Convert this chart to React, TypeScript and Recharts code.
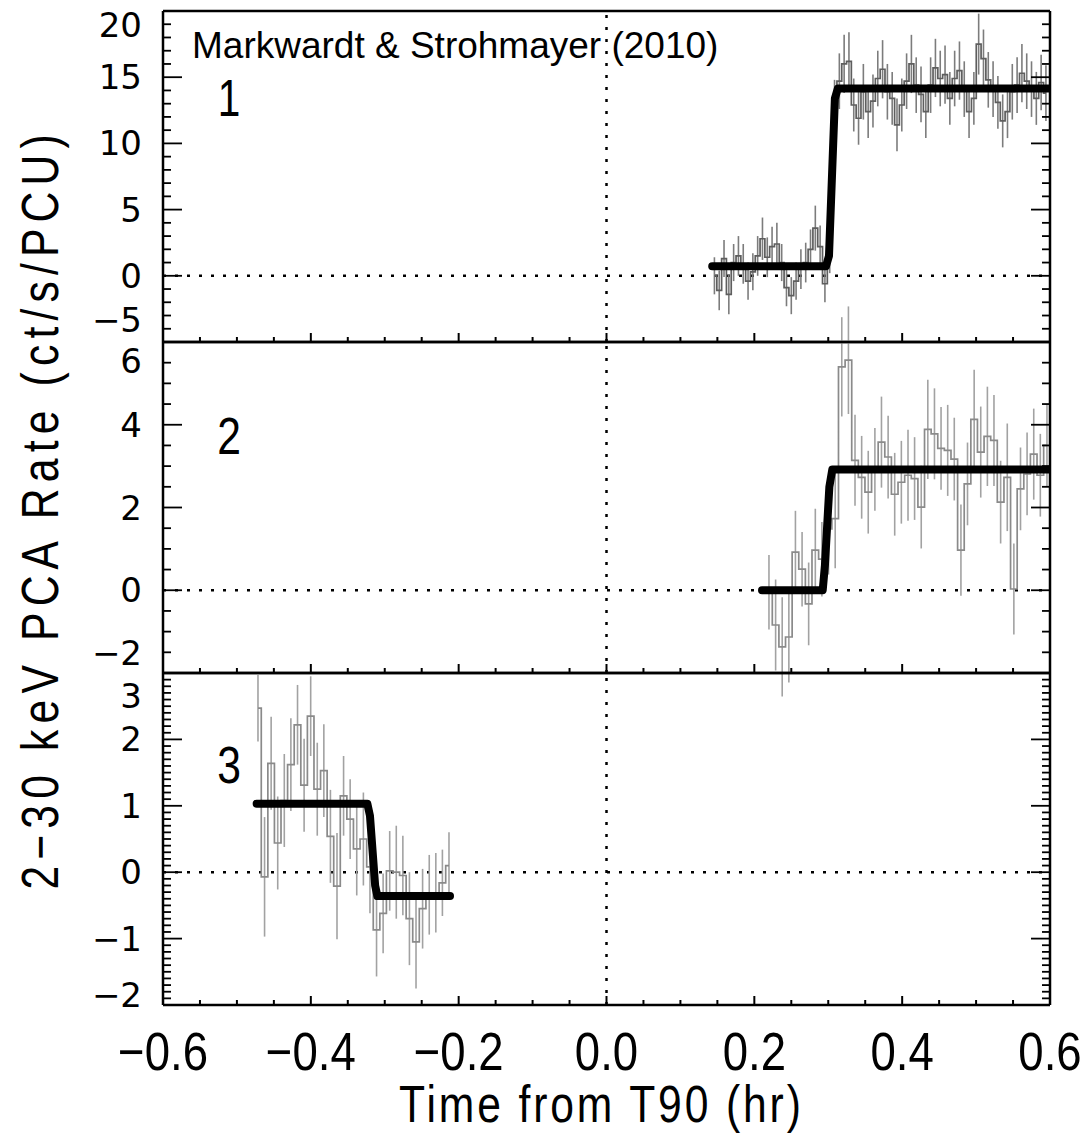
import React from 'react';
import { ComposedChart, Line, XAxis, YAxis, ErrorBar, ReferenceLine } from 'recharts';

const W = 1083;
const H = 1139;
const LEFT = 163;
const RIGHT = 1050;

// panel 1: bin centres (hr), rate, error
const t1 = [
  0.146, 0.1525, 0.159, 0.1655, 0.172, 0.1785, 0.185, 0.1915, 0.198, 0.2045,
  0.211, 0.2175, 0.224, 0.2305, 0.237, 0.2435, 0.25, 0.2565, 0.263, 0.2695,
  0.276, 0.2825, 0.289, 0.2955, 0.302, 0.3085, 0.315, 0.3215, 0.328, 0.3345,
  0.341, 0.3475, 0.354, 0.3605, 0.367, 0.3735, 0.38, 0.3865, 0.393, 0.3995,
  0.406, 0.4125, 0.419, 0.4255, 0.432, 0.4385, 0.445, 0.4515, 0.458, 0.4645,
  0.471, 0.4775, 0.484, 0.4905, 0.497, 0.5035, 0.51, 0.5165, 0.523, 0.5295,
  0.536, 0.5425, 0.549, 0.5555, 0.562, 0.5685, 0.575, 0.5815, 0.588, 0.5945,
];
const rate1 = [
  0.0, -1.1, 1.3, -1.4, 1.0, 1.5, 0.9, -0.4, 0.3, 1.5,
  2.8, 1.4, 2.2, 2.4, 1.0, -0.9, -1.5, -0.4, 0.5, 1.0,
  2.0, 3.6, 2.2, -0.6, 1.8, 12.8, 14.7, 16.0, 16.2, 12.9,
  11.9, 13.9, 12.4, 13.2, 14.9, 15.6, 13.9, 13.4, 11.4, 12.9,
  14.7, 16.0, 14.4, 13.7, 12.4, 14.4, 15.7, 14.9, 15.2, 13.4,
  14.9, 15.5, 14.1, 12.4, 13.4, 17.5, 16.4, 14.8, 14.1, 13.1,
  11.7, 12.4, 13.9, 14.4, 15.3, 14.7, 14.1, 13.4, 14.6, 13.8,
];
const err1 = [
  1.4, 1.5, 1.4, 1.5, 1.4, 1.5, 1.5, 1.4, 1.4, 1.5,
  1.6, 1.5, 1.5, 1.6, 1.4, 1.4, 1.4, 1.4, 1.5, 1.5,
  1.5, 1.7, 1.6, 1.4, 1.6, 2.0, 2.1, 2.2, 2.2, 2.0,
  2.0, 2.1, 2.0, 2.0, 2.1, 2.2, 2.1, 2.0, 2.0, 2.0,
  2.1, 2.2, 2.1, 2.1, 2.0, 2.1, 2.2, 2.1, 2.2, 2.0,
  2.1, 2.2, 2.1, 2.0, 2.0, 2.3, 2.2, 2.1, 2.1, 2.0,
  2.0, 2.0, 2.1, 2.1, 2.2, 2.1, 2.1, 2.0, 2.1, 2.1,
];
const fit1T = [0.143, 0.297, 0.301, 0.309, 0.313, 0.6];
const fit1Y = [0.72, 0.72, 1.5, 13.4, 14.15, 14.15];

// panel 2
const t2 = [
  0.2198, 0.2288, 0.2377, 0.2467, 0.2556, 0.2646, 0.2735, 0.2825, 0.2914, 0.3004,
  0.3094, 0.3183, 0.3273, 0.3362, 0.3452, 0.3541, 0.3631, 0.372, 0.381, 0.3899,
  0.3989, 0.4079, 0.4168, 0.4258, 0.4347, 0.4437, 0.4526, 0.4616, 0.4705, 0.4795,
  0.4884, 0.4974, 0.5063, 0.5153, 0.5242, 0.5332, 0.5422, 0.5511, 0.5601, 0.569,
  0.578, 0.5869, 0.5959,
];
const rate2 = [
  -0.05, -0.84, -1.37, -1.13, 0.92, 0.51, -0.33, 0.97, 0.75, 1.48,
  1.73, 5.4, 5.56, 3.14, 2.73, 2.37, 2.92, 3.58, 3.22, 2.32,
  2.61, 2.78, 2.7, 2.01, 3.89, 3.78, 3.43, 3.38, 3.17, 0.97,
  2.57, 4.13, 3.34, 3.72, 3.62, 2.13, 2.73, 0.03, 2.45, 2.81,
  3.29, 2.78, 3.5,
];
const err2 = [
  0.9, 1.1, 1.2, 1.1, 1.0, 0.9, 1.0, 1.0, 0.9, 1.1,
  1.2, 1.2, 1.3, 1.1, 1.0, 1.0, 1.0, 1.1, 1.0, 1.0,
  1.0, 1.1, 1.0, 1.0, 1.2, 1.1, 1.0, 1.1, 1.0, 1.1,
  1.0, 1.2, 1.1, 1.2, 1.1, 1.0, 1.3, 1.1, 1.0, 1.0,
  1.1, 1.0, 1.0,
];
const fit2T = [0.2104, 0.2925, 0.2955, 0.3015, 0.3055, 0.6];
const fit2Y = [0, 0, 0.6, 2.5, 2.92, 2.92];

// panel 3
const t3 = [
  -0.4715, -0.4626, -0.4537, -0.4448, -0.4359, -0.427, -0.418, -0.4091, -0.4002, -0.3913,
  -0.3824, -0.3735, -0.3646, -0.3557, -0.3468, -0.3379, -0.3289, -0.32, -0.3111, -0.3022,
  -0.2933, -0.2844, -0.2755, -0.2666, -0.2577, -0.2488, -0.2398, -0.2309, -0.222, -0.2131,
];
const rate3 = [
  2.47, -0.07, 1.64, 0.44, 1.08, 1.62, 2.22, 1.31, 2.35, 1.25,
  1.53, 0.54, -0.21, 1.15, 0.8, 0.35, 0.5, 0.08, -0.87, -0.62,
  0.02, 0.0, -0.05, -0.7, -1.05, -0.55, -0.34, -0.31, -0.16, 0.1,
];
const err3 = [
  0.5, 0.9, 0.7, 0.7, 0.7, 0.7, 0.6, 0.7, 0.6, 0.7,
  0.7, 0.7, 0.8, 0.6, 0.6, 0.7, 0.7, 0.7, 0.7, 0.6,
  0.6, 0.7, 0.6, 0.7, 0.7, 0.6, 0.6, 0.6, 0.5, 0.5,
];
const fit3T = [-0.4733, -0.3235, -0.32, -0.313, -0.31, -0.2117];
const fit3Y = [1.03, 1.03, 0.85, -0.2, -0.36, -0.36];

const xMajor = [-0.6, -0.4, -0.2, 0, 0.2, 0.4, 0.6];
const xLabels = ['−0.6', '−0.4', '−0.2', '0.0', '0.2', '0.4', '0.6'];

const y1Major = [-5, 0, 5, 10, 15, 20];
const y2Major = [-2, 0, 2, 4, 6];
const y3Major = [-2, -1, 0, 1, 2, 3];

const range = (a: number, b: number, s: number) => {
  const out: number[] = [];
  for (let v = a; v <= b + 1e-9; v += s) out.push(Math.round(v * 1000) / 1000);
  return out;
};
const xMinor = range(-0.6, 0.6, 0.05);

const SANS = '"Liberation Sans", Arial, Helvetica, sans-serif';
const near = (v: number, list: number[]) => list.some((m) => Math.abs(m - v) < 1e-6);
const fmt = (v: number) => (v < 0 ? '−' + Math.abs(v) : String(v));

function LeftTick(props: any) {
  const { x, y, payload, majors, shift } = props;
  const v = payload.value;
  const major = near(v, majors);
  return (
    <g>
      <line x1={x} y1={y} x2={x + (major ? 19 : 8)} y2={y} stroke="#000" strokeWidth={1.8} />
      {major && (
        <text x={x - 21} y={y + (shift[String(v)] ?? 0)} textAnchor="end" dominantBaseline="central"
          fontSize={34} fontFamily="DejaVu Sans, sans-serif" fill="#000">
          {fmt(v)}
        </text>
      )}
    </g>
  );
}

function RightTick(props: any) {
  const { x, y, payload, majors } = props;
  const major = near(payload.value, majors);
  return <line x1={x} y1={y} x2={x - (major ? 19 : 8)} y2={y} stroke="#000" strokeWidth={1.8} />;
}

function BottomTick(props: any) {
  const { x, y, payload, showLabel } = props;
  const idx = xMajor.findIndex((m) => Math.abs(m - payload.value) < 1e-6);
  const major = idx >= 0;
  return (
    <g>
      <line x1={x} y1={y} x2={x} y2={y - (major ? 9 : 5)} stroke="#000" strokeWidth={2} />
      {showLabel && major && (
        <text transform={`translate(${x},${y + 65}) scale(0.86,1)`} textAnchor="middle" fontSize={53}
          fontFamily={SANS} fill="#000">
          {xLabels[idx]}
        </text>
      )}
    </g>
  );
}

function TopTick(props: any) {
  const { x, y, payload } = props;
  const major = near(payload.value, xMajor);
  return <line x1={x} y1={y} x2={x} y2={y + (major ? 9 : 5)} stroke="#000" strokeWidth={2} />;
}

type PanelProps = {
  top: number;
  bottom: number;
  t: number[];
  rate: number[];
  err: number[];
  fitT: number[];
  fitY: number[];
  domain: [number, number];
  majors: number[];
  minorStep: number;
  shift: Record<string, number>;
  showX: boolean;
  histColor: string;
  barColor: string;
};

function Panel(p: PanelProps) {
  const hist = p.t.map((t, i) => ({ t, y: p.rate[i], err: p.err[i] }));
  const fit = p.fitT.map((t, i) => ({ t, y: p.fitY[i] }));
  const yTicks = range(p.domain[0], p.domain[1], p.minorStep);
  const axisLine = { stroke: '#000', strokeWidth: 2.5 };
  return (
    <div style={{ position: 'absolute', left: 0, top: 0 }}>
      <ComposedChart width={W} height={H}
        margin={{ top: p.top - 1, bottom: H - p.bottom - 1, left: LEFT - 1, right: W - RIGHT - 1 }}>
        <XAxis type="number" dataKey="t" domain={[-0.6, 0.6]} allowDataOverflow ticks={xMinor} interval={0}
          height={1} tickSize={0} tickMargin={0} tickLine={false} axisLine={axisLine}
          tick={(tp: any) => <BottomTick {...tp} showLabel={p.showX} />} />
        <XAxis xAxisId="top" orientation="top" type="number" domain={[-0.6, 0.6]} allowDataOverflow ticks={xMinor}
          interval={0} height={1} tickSize={0} tickMargin={0} tickLine={false} axisLine={axisLine}
          tick={(tp: any) => <TopTick {...tp} />} />
        <YAxis type="number" domain={p.domain} allowDataOverflow ticks={yTicks} interval={0} width={1}
          tickSize={0} tickMargin={0} tickLine={false} axisLine={axisLine}
          tick={(tp: any) => <LeftTick {...tp} majors={p.majors} shift={p.shift} />} />
        <YAxis yAxisId="right" orientation="right" type="number" domain={p.domain} allowDataOverflow ticks={yTicks}
          interval={0} width={1} tickSize={0} tickMargin={0} tickLine={false} axisLine={axisLine}
          tick={(tp: any) => <RightTick {...tp} majors={p.majors} />} />
        <ReferenceLine y={0} stroke="#000" strokeWidth={2.5} strokeDasharray="3 9" />
        <ReferenceLine x={0} stroke="#000" strokeWidth={2.5} strokeDasharray="3 9" />
        <Line data={hist} dataKey="y" type="step" stroke={p.histColor} strokeWidth={1.7} dot={false}
          isAnimationActive={false}>
          <ErrorBar dataKey="err" width={0} stroke={p.barColor} strokeWidth={1.6} direction="y" />
        </Line>
        <Line data={fit} dataKey="y" type="linear" stroke="#000" strokeWidth={8} dot={false}
          strokeLinejoin="round" strokeLinecap="round" isAnimationActive={false} />
      </ComposedChart>
    </div>
  );
}

export default function App() {
  return (
    <div style={{ position: 'absolute', left: 0, top: 0, width: W, height: H, background: '#fff' }}>
      <Panel top={11} bottom={342} t={t1} rate={rate1} err={err1} fitT={fit1T} fitY={fit1Y}
        domain={[-5, 20]} majors={y1Major} minorStep={1} shift={{ '20': 14, '-5': -22 }} showX={false}
        histColor="#5e5e5e" barColor="#7c7c7c" />
      <Panel top={342} bottom={673} t={t2} rate={rate2} err={err2} fitT={fit2T} fitY={fit2Y}
        domain={[-2, 6]} majors={y2Major} minorStep={0.5} shift={{ '6': 19, '-2': -20 }} showX={false}
        histColor="#8a8a8a" barColor="#a2a2a2" />
      <Panel top={673} bottom={1005} t={t3} rate={rate3} err={err3} fitT={fit3T} fitY={fit3Y}
        domain={[-2, 3]} majors={y3Major} minorStep={0.1} shift={{ '3': 23, '-2': -10 }} showX={true}
        histColor="#8a8a8a" barColor="#a2a2a2" />
      <svg width={W} height={H} style={{ position: 'absolute', left: 0, top: 0, pointerEvents: 'none' }}>
        <text x={192} y={58} fontSize={37} fontFamily={SANS} fill="#000">
          Markwardt &amp; Strohmayer (2010)
        </text>
        <text transform="translate(229,116) scale(0.78,1)" textAnchor="middle" fontSize={52} fontFamily={SANS}
          fill="#000">1</text>
        <text transform="translate(229,454) scale(0.82,1)" textAnchor="middle" fontSize={52} fontFamily={SANS}
          fill="#000">2</text>
        <text transform="translate(229,783) scale(0.82,1)" textAnchor="middle" fontSize={52} fontFamily={SANS}
          fill="#000">3</text>
        <text transform="translate(600,1122) scale(0.82,1)" textAnchor="middle" fontSize={52} fontFamily={SANS}
          fill="#000" textLength={490} lengthAdjust="spacing">
          Time from T90 (hr)
        </text>
        <text transform="translate(58,512) rotate(-90) scale(0.82,1)" textAnchor="middle" fontSize={52}
          fontFamily={SANS} fill="#000" textLength={921} lengthAdjust="spacing">
          2−30 keV PCA Rate (ct/s/PCU)
        </text>
      </svg>
    </div>
  );
}
